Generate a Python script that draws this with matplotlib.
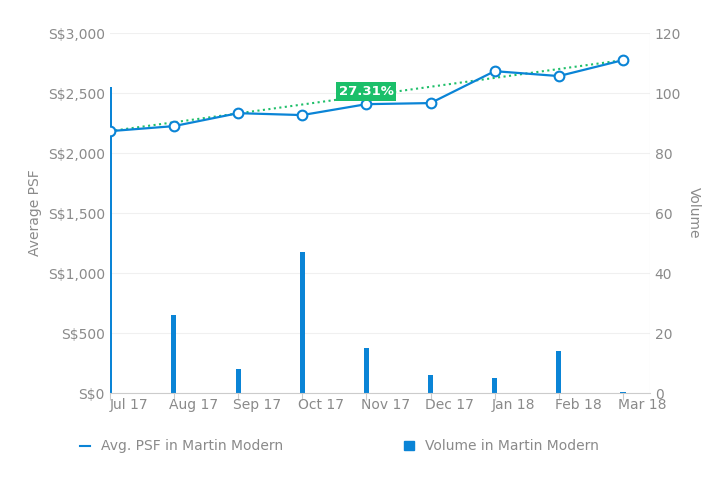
import matplotlib
matplotlib.use("Agg")
import matplotlib.pyplot as plt
from matplotlib.lines import Line2D
from matplotlib.patches import Patch

months = ["Jul 17","Aug 17","Sep 17","Oct 17","Nov 17","Dec 17","Jan 18","Feb 18","Mar 18"]
psf = [2183, 2225, 2333, 2317, 2408, 2417, 2683, 2642, 2775]
volume = [102, 26, 8, 47, 15, 6, 5, 14, 0.5]
trend_label = "27.31%"
psf_ticks = [0, 500, 1000, 1500, 2000, 2500, 3000]
vol_ticks = [0, 20, 40, 60, 80, 100, 120]

blue = "#0a84d6"; grey = "#8a8a8a"
fig = plt.figure(figsize=(7.27, 4.8), dpi=100)
ax = fig.add_axes([0.151, 0.181, 0.743, 0.75])
ax2 = ax.twinx()
x = list(range(len(months)))
ax2.bar(x, volume, width=0.08, color=blue, zorder=2)
ax2.set_ylim(0, 120)
ax2.set_yticks(vol_ticks)
ax2.grid(axis="y", color="#f0f0f0", lw=0.8); ax2.set_axisbelow(True)
ax.set_zorder(ax2.get_zorder() + 1); ax.patch.set_visible(False)
ax.plot([x[0], x[-1]], [psf[0], psf[-1]], ls=":", color="#1fbf6a", lw=1.5, zorder=3)
ax.plot(x, psf, color=blue, lw=1.6, marker="o", ms=7, mfc="white", mec=blue, mew=1.5, zorder=4)
xm = (x[0] + x[-1]) / 2
ax.text(xm, (psf[0] + psf[-1]) / 2 + 35, trend_label, ha="center", va="center", color="white",
        fontsize=9.5, fontweight="bold", bbox=dict(boxstyle="square,pad=0.2", fc="#1bbf6a", ec="none"), zorder=5)
ax.set_xlim(0, 8.42); ax.set_ylim(0, 3000)
ax.set_yticks(psf_ticks)
ax.set_yticklabels([f"S${v:,}" for v in psf_ticks])
ax.set_xticks(x)
ax.set_xticklabels([])
ax.set_xticks([v + 0.3 for v in x], minor=True)
ax.set_xticklabels(months, minor=True)
for a in (ax, ax2):
    a.tick_params(colors=grey, labelsize=10, length=0)
    for s in a.spines.values(): s.set_visible(False)
ax.tick_params(axis="x", which="major", length=5, color="#cccccc")
ax.tick_params(axis="x", which="minor", length=0, colors=grey, labelsize=10)
ax.spines["bottom"].set_visible(True); ax.spines["bottom"].set_color("#cccccc")
ax.set_ylabel("Average PSF", color=grey, fontsize=10)
ax2.set_ylabel("Volume", color=grey, fontsize=10, rotation=270, labelpad=14)
ax2.axvline(8.42, color="#e5e5e5", lw=0.8)
h = [Line2D([], [], color=blue, lw=1.5), Patch(color=blue)]
fig.legend([h[0]], ["Avg. PSF in Martin Modern"], loc="center", bbox_to_anchor=(0.25, 0.07),
           frameon=False, fontsize=10, labelcolor=grey, handlelength=0.7)
fig.legend([h[1]], ["Volume in Martin Modern"], loc="center", bbox_to_anchor=(0.69, 0.07),
           frameon=False, fontsize=10, labelcolor=grey, handlelength=0.7, handleheight=0.7)
fig.savefig("out.png", dpi=100)
